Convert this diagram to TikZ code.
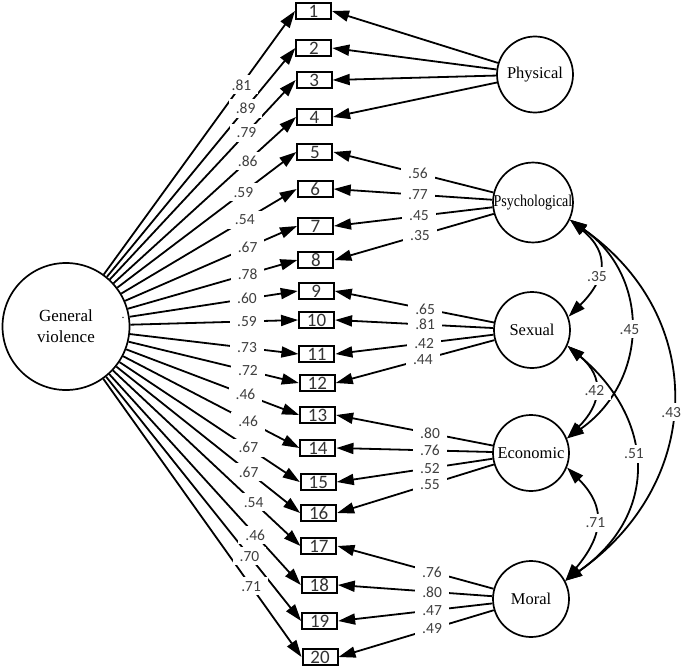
\documentclass[tikz,border=0pt]{standalone}
\usepackage{fontspec}
\setmainfont{Liberation Serif}
\newfontfamily\numfont{Carlito}
\usetikzlibrary{arrows.meta,calc}
\begin{document}
\begin{tikzpicture}[x=1pt,y=1pt,
  latent/.style={circle,draw,line width=1.7pt,minimum size=76pt,inner sep=0pt,font=\fontsize{16.5}{18}\selectfont},
  item/.style={draw,line width=2pt,minimum width=35pt,minimum height=16pt,inner sep=0pt,font=\numfont\fontsize{19}{19}\selectfont,text=black!80},
  load/.style={line width=1.8pt,-{Triangle[length=17pt,width=11pt]}},
  cov/.style={line width=1.8pt,{Triangle[length=17pt,width=11pt]}-{Triangle[length=17pt,width=11pt]}},
  coef/.style={fill=white,inner xsep=7pt,inner ysep=4pt,font=\numfont\fontsize{15.5}{15.5}\selectfont,text=black!75}
]
\useasboundingbox (0,0) rectangle (685,-669);

% general factor
\node[latent,minimum size=127pt,align=center,font=\fontsize{17}{21}\selectfont] (gv) at (66,-326.5) {General\\violence};
\node[inner sep=0pt,font=\fontsize{12}{12}\selectfont] (dot) at (123,-318) {.};

% first-order factors
\node[latent] (ph) at (535,-74.5) {Physical};
\node[latent] (ps) at (533,-202.5) {\scalebox{0.85}[1]{Psychological}};
\node[latent] (sx) at (532,-330) {Sexual};
\node[latent] (ec) at (531,-453) {Economic};
\node[latent] (mo) at (531,-599) {Moral};

% items
\foreach \i/\y in {1/11,2/48,3/80,4/117,5/152,6/189,7/226,8/260,9/291,10/320,
                   11/354,12/383,13/415,14/448,15/482,16/513,17/546,18/585,19/621,20/657}
  \node[item] (b\i) at ({313.5+(\i-1)*0.342},-\y) {\i};

% loadings of general factor
\foreach \i/\t/\v in {1/0.766/.81,2/0.783/.89,3/0.786/.79,4/0.79/.86,5/0.77/.59,
                      6/0.775/.54,7/0.786/.67,8/0.785/.78,9/0.781/.60,10/0.78/.59,
                      11/0.779/.73,12/0.782/.72,13/0.77/.46,14/0.78/.46,15/0.78/.67,
                      16/0.78/.67,17/0.8/.54,18/0.806/.46,19/0.78/.70,20/0.786/.71}
  \draw[load] (gv) -- (b\i.west);
\foreach \i/\t/\v in {1/0.766/.81,2/0.783/.89,3/0.786/.79,4/0.79/.86,5/0.77/.59,
                      6/0.775/.54,7/0.786/.67,8/0.785/.78,9/0.781/.60,10/0.78/.59,
                      11/0.779/.73,12/0.782/.72,13/0.77/.46,14/0.78/.46,15/0.78/.67,
                      16/0.78/.67,17/0.8/.54,18/0.806/.46,19/0.78/.70,20/0.786/.71}
  \node[coef] (g\i) at ($(gv.center)!\t!(b\i.west)$) {\v};

% loadings of first-order factors
\foreach \i in {1,2,3,4}
  \draw[load] (ph) -- (b\i.east);
\foreach \f/\i/\t/\v in {ps/5/0.576/.56,ps/6/0.577/.77,ps/7/0.573/.45,ps/8/0.569/.35,
                         sx/9/0.542/.65,sx/10/0.543/.81,sx/11/0.549/.42,sx/12/0.556/.44,
                         ec/13/0.518/.80,ec/14/0.519/.76,ec/15/0.52/.52,ec/16/0.521/.55,
                         mo/17/0.512/.76,mo/18/0.512/.80,mo/19/0.513/.47,mo/20/0.514/.49}
  {\draw[load] (\f) -- (b\i.east);
   \node[coef] (f\i) at ($(\f.center)!\t!(b\i.east)$) {\v};}

% covariances
\draw[cov] (ps.-25) to[out=-40,in=45,looseness=1.4] node[coef,pos=0.6] (c1) {.35} (sx.20);
\draw[cov] (ps.-25) to[out=-35,in=35,looseness=1.16] node[coef] (c2) {.45} (ec.22);
\draw[cov] (ps.-25) to[out=-35,in=35,looseness=1.2] node[coef,pos=0.53] (c3) {.43} (mo.28);
\draw[cov] (sx.-24) to[out=-40,in=45,looseness=1.35] node[coef] (c4) {.42} (ec.22);
\draw[cov] (sx.-24) to[out=-40,in=35,looseness=1.25] node[coef,pos=0.45] (c5) {.51} (mo.28);
\draw[cov] (ec.-22) to[out=-45,in=50,looseness=1.3] node[coef] (c6) {.71} (mo.28);
\end{tikzpicture}
\end{document}
